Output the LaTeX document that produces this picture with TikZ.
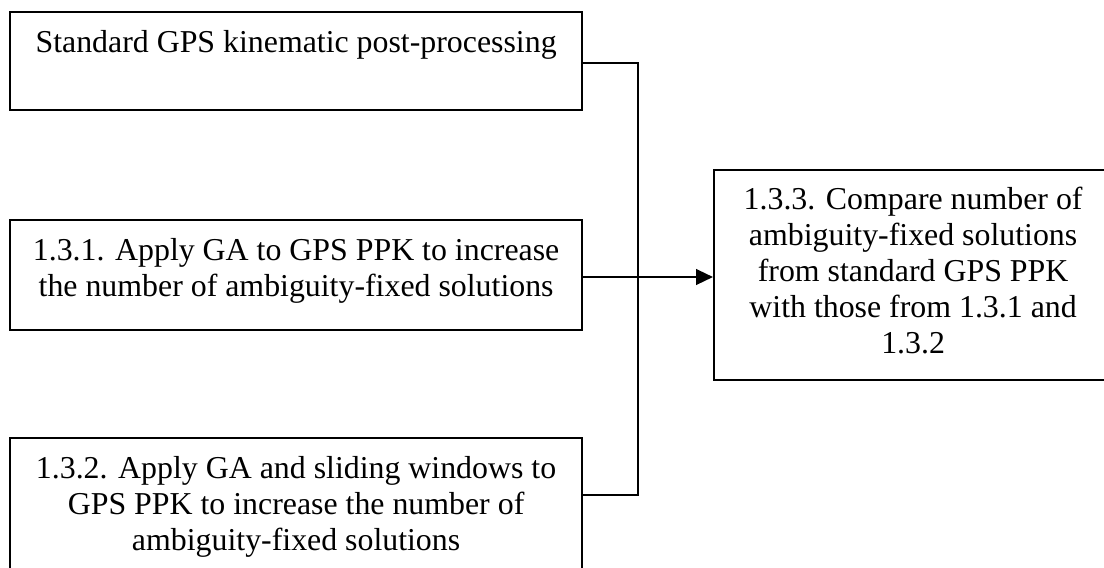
\documentclass[tikz,border=0pt]{standalone}
\usepackage{fontspec}
\setmainfont{Liberation Serif}
\usetikzlibrary{arrows.meta,calc}
\newlength\U \setlength\U{0.383pt}
\newcommand\boxtext[3]{\parbox[c][#1\U][t]{#2\U}{\centering\fontsize{12.2pt}{13.8pt}\selectfont\vspace*{15\U}\strut #3}}
\tikzset{
  box/.style={draw, line width=0.85pt, inner sep=0pt, anchor=north west},
  conn/.style={line width=0.85pt},
}
\begin{document}
\begin{tikzpicture}[x=0.383pt,y=-0.383pt]
\useasboundingbox (0,0) rectangle (1104,567);
\node[box] (b1) at (9,11) {\boxtext{98}{572}{Standard GPS kinematic post-processing}};
\node[box] (b2) at (9,219) {\boxtext{110}{572}{1.3.1. Apply GA to GPS PPK to increase\\the number of ambiguity-fixed solutions}};
\node[box] (b3) at (9,437) {\boxtext{150}{572}{1.3.2. Apply GA and sliding windows to\\GPS PPK to increase the number of\\ambiguity-fixed solutions}};
\node[box] (b4) at (713,168.5) {\boxtext{210.5}{398}{1.3.3. Compare number of\\ambiguity-fixed solutions\\from standard GPS PPK\\with those from 1.3.1 and\\1.3.2}};
\coordinate (r1) at (0,63);
\coordinate (r2) at (0,277);
\coordinate (r3) at (0,495);
\coordinate (vx) at (638,0);
\draw[conn] (b1.east |- r1) -| (vx |- r3) -- (b3.east |- r3);
\draw[conn,-{Triangle[length=6.5pt,width=6pt]}] (b2.east |- r2) -- (b4.west |- r2);
\end{tikzpicture}
\end{document}
